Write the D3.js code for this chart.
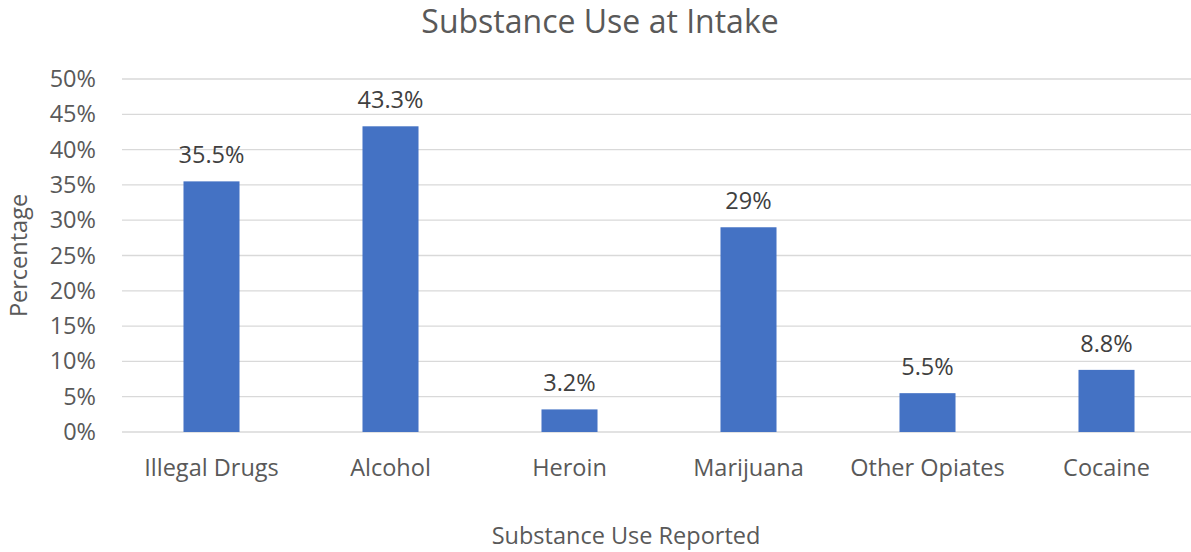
<!DOCTYPE html>
<html>
<head>
    <title>Substance Use at Intake</title>
    <script src="https://d3js.org/d3.v7.min.js"></script>
    <style>
        body { margin: 0; background: #fff; }
        svg text { font-family: "Open Sans", sans-serif; }
    </style>
</head>
<body>
<svg id="chart" width="1191" height="552"></svg>
<script>
    // datos del grafico
    const categorias = ["Illegal Drugs", "Alcohol", "Heroin", "Marijuana", "Other Opiates", "Cocaine"];
    const valores = [35.5, 43.3, 3.2, 29, 5.5, 8.8];
    const etiquetas = ["35.5%", "43.3%", "3.2%", "29%", "5.5%", "8.8%"];
    const ticksY = [0, 5, 10, 15, 20, 25, 30, 35, 40, 45, 50];

    const svg = d3.select("#chart");
    const margin = { top: 79, right: -5, bottom: 120, left: 122 };
    const width = +svg.attr("width");
    const height = +svg.attr("height");
    const tamLetra = "23.5px";

    const x = d3.scaleBand()
        .domain(categorias)
        .range([margin.left, width - margin.right])
        .paddingInner(0.687)
        .paddingOuter(0.3435);

    const y = d3.scaleLinear()
        .domain([0, 50])
        .range([height - margin.bottom, margin.top]);

    // lineas de la grilla
    svg.append("g")
        .selectAll("line")
        .data(ticksY)
        .join("line")
        .attr("x1", margin.left)
        .attr("x2", width)
        .attr("y1", d => y(d))
        .attr("y2", d => y(d))
        .attr("stroke", "#d9d9d9")
        .attr("stroke-width", 1.3);

    // eje Y
    const ejeY = svg.append("g")
        .attr("transform", `translate(${margin.left},0)`)
        .call(d3.axisLeft(y).tickValues(ticksY).tickFormat(d => d + "%").tickSize(0).tickPadding(26));
    ejeY.select(".domain").remove();
    ejeY.selectAll("text")
        .attr("fill", "#595959")
        .style("font-size", tamLetra);

    // eje X
    const ejeX = svg.append("g")
        .attr("transform", `translate(0,${y(0)})`)
        .call(d3.axisBottom(x).tickSize(0).tickPadding(27));
    ejeX.select(".domain").remove();
    ejeX.selectAll("text")
        .attr("fill", "#595959")
        .style("font-size", tamLetra);

    // barras
    svg.append("g")
        .selectAll("rect")
        .data(valores)
        .join("rect")
        .attr("x", (d, i) => x(categorias[i]))
        .attr("width", x.bandwidth())
        .attr("y", d => y(d))
        .attr("height", d => y(0) - y(d))
        .attr("fill", "#4472c4");

    // etiquetas de datos
    svg.append("g")
        .selectAll("text")
        .data(valores)
        .join("text")
        .attr("x", (d, i) => x(categorias[i]) + x.bandwidth() / 2)
        .attr("y", d => y(d) - 18)
        .attr("text-anchor", "middle")
        .attr("fill", "#404040")
        .style("font-size", tamLetra)
        .text((d, i) => etiquetas[i]);

    // titulo
    svg.append("text")
        .attr("x", 600)
        .attr("y", 33)
        .attr("text-anchor", "middle")
        .attr("fill", "#595959")
        .style("font-size", "32px")
        .text("Substance Use at Intake");

    // titulos de ejes
    svg.append("text")
        .attr("x", 626)
        .attr("y", 544)
        .attr("text-anchor", "middle")
        .attr("fill", "#595959")
        .style("font-size", tamLetra)
        .text("Substance Use Reported");

    svg.append("text")
        .attr("transform", `translate(27,${(y(0) + y(50)) / 2}) rotate(-90)`)
        .attr("text-anchor", "middle")
        .attr("fill", "#595959")
        .style("font-size", tamLetra)
        .text("Percentage");
</script>
</body>
</html>
